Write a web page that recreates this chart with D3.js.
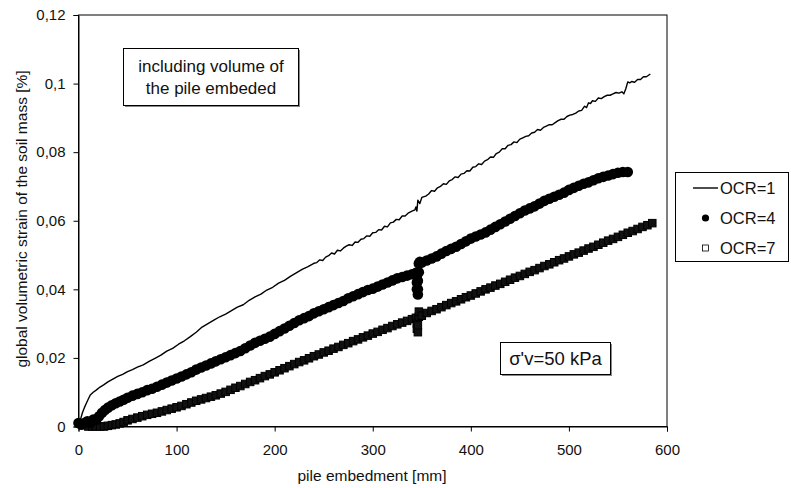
<!DOCTYPE html>
<html>
<head>
<meta charset="utf-8">
<script src="https://cdn.jsdelivr.net/npm/d3@7"></script>
<style>
  body { margin: 0; background: #fff; }
  svg { display: block; font-family: "Liberation Sans", Arial, sans-serif; }
</style>
</head>
<body>
<div id="chart"></div>
<script>
// Values, [embedment mm, strain %]
const ocr1 = [
  [0,0],[2,0.002],[4,0.004],[6,0.0055],[8,0.0068],[10,0.008],[12,0.0092],[15,0.0100],
  [18,0.0106],[22,0.0115],[26,0.0122],[30,0.0130],[35,0.0138],[40,0.0146],[45,0.0152],
  [50,0.0160],[55,0.0166],[60,0.0173],[66,0.0180],[72,0.0190],[78,0.0199],[84,0.0208],
  [90,0.0220],[96,0.0228],[102,0.0240],[108,0.0250],[114,0.0262],[120,0.0275],[126,0.0290],
  [132,0.0300],[138,0.0310],[144,0.0320],[150,0.0328],[156,0.0338],[162,0.0348],[168,0.0355],
  [174,0.0368],[180,0.0378],[186,0.0386],[192,0.0398],[198,0.0406],[204,0.0418],[210,0.0426],
  [216,0.0438],[222,0.0448],[228,0.0458],[234,0.0466],[240,0.0476],[243,0.0478],[246,0.0486],
  [249,0.0484],[252,0.0494],[255,0.0498],[258,0.0506],[261,0.0503],[264,0.0514],[267,0.0512],
  [270,0.0520],[273,0.0526],[276,0.0530],[279,0.0528],[282,0.0538],[285,0.0537],[288,0.0546],
  [291,0.0548],[294,0.0556],[297,0.0555],[300,0.0565],[303,0.0566],[306,0.0574],[309,0.0573],
  [312,0.0584],[315,0.0582],[318,0.0594],[321,0.0596],[324,0.0604],[327,0.0603],[330,0.0614],
  [333,0.0614],[336,0.0622],[340,0.0628],[343,0.0632],[344,0.0640],[345,0.0628],[346,0.0660],
  [348,0.0650],[350,0.0668],[354,0.0672],[357,0.0678],[360,0.0688],[363,0.0686],[366,0.0696],
  [369,0.0700],[372,0.0708],[375,0.0706],[378,0.0716],[381,0.0720],[384,0.0728],[387,0.0726],
  [390,0.0736],[393,0.0738],[396,0.0746],[399,0.0745],[402,0.0756],[405,0.0758],[408,0.0766],
  [411,0.0764],[414,0.0774],[417,0.0778],[420,0.0786],[423,0.0785],[426,0.0796],[429,0.0800],
  [432,0.0810],[435,0.0810],[438,0.0820],[441,0.0822],[444,0.0830],[447,0.0828],[450,0.0838],
  [453,0.0842],[456,0.0846],[459,0.0848],[462,0.0856],[465,0.0858],[468,0.0866],[471,0.0864],
  [474,0.0872],[477,0.0876],[480,0.0880],[483,0.0880],[486,0.0886],[489,0.0892],[492,0.0896],
  [495,0.0896],[498,0.0904],[501,0.0908],[504,0.0910],[507,0.0914],[510,0.0920],[513,0.0922],
  [516,0.0934],[518,0.0930],[520,0.0944],[522,0.0942],[524,0.0950],[527,0.0948],[530,0.0958],
  [533,0.0956],[536,0.0962],[539,0.0966],[542,0.0966],[545,0.0970],[548,0.0974],[551,0.0972],
  [554,0.0976],[556,0.0970],[558,0.0985],[560,0.1005],[562,0.1002],[564,0.1006],[567,0.1004],
  [570,0.1012],[573,0.1012],[576,0.1020],[579,0.1020],[583,0.1028]
];

const ocr4 = [
  [0,0.001],[3,0.0005],[6,0.001],[9,0.0015],[12,0.001],[15,0.002],[18,0.002],[21,0.003],
  [24,0.004],[27,0.0048],[30,0.0055],[34,0.0062],[38,0.0068],[42,0.0073],[46,0.0078],
  [50,0.0084],[55,0.0090],[60,0.0095],[65,0.0100],[70,0.0106],[75,0.0110],[80,0.0116],
  [85,0.0122],[90,0.0128],[95,0.0134],[100,0.0140],[105,0.0146],[110,0.0152],[115,0.0158],
  [120,0.0166],[125,0.0172],[130,0.0178],[135,0.0184],[140,0.0190],[145,0.0196],[150,0.0202],
  [155,0.0208],[160,0.0214],[165,0.0220],[170,0.0228],[175,0.0236],[180,0.0244],[185,0.0250],
  [190,0.0256],[195,0.0262],[200,0.0270],[205,0.0278],[210,0.0286],[215,0.0294],[220,0.0302],
  [225,0.0310],[230,0.0316],[235,0.0322],[240,0.0330],[245,0.0336],[250,0.0342],[255,0.0348],
  [260,0.0354],[265,0.0360],[270,0.0366],[275,0.0374],[280,0.0380],[285,0.0386],[290,0.0392],
  [295,0.0398],[300,0.0402],[305,0.0408],[310,0.0414],[315,0.0420],[320,0.0426],[325,0.0432],
  [330,0.0436],[335,0.0440],[340,0.0444],[344,0.0448],[345,0.0440],[345,0.0420],[345,0.0400],
  [346,0.0385],[346,0.0400],[346,0.0425],[347,0.0450],[347,0.0475],[348,0.0480],[350,0.0478],
  [355,0.0484],[360,0.0490],[365,0.0496],[370,0.0504],
  [375,0.0512],[380,0.0518],[385,0.0524],[390,0.0532],[395,0.0540],[400,0.0548],[405,0.0554],
  [410,0.0560],[415,0.0566],[420,0.0574],[425,0.0582],[430,0.0590],[435,0.0598],[440,0.0606],
  [445,0.0614],[450,0.0622],[455,0.0630],[460,0.0636],[465,0.0642],[470,0.0650],[475,0.0658],
  [480,0.0664],[485,0.0670],[490,0.0676],[495,0.0682],[500,0.0690],[505,0.0696],[510,0.0702],
  [515,0.0708],[520,0.0712],[525,0.0718],[530,0.0724],[535,0.0728],[540,0.0732],[545,0.0736],
  [550,0.0740],[555,0.0742],[560,0.0742]
];

const ocr7 = [
  [10,0],[14,0],[18,0],[22,0],[26,0],[30,0.0002],[34,0.0004],[38,0.0006],[42,0.0009],
  [46,0.0013],[50,0.0018],[55,0.0022],[60,0.0026],[65,0.0030],[70,0.0034],[75,0.0037],
  [80,0.0040],[85,0.0044],[90,0.0048],[95,0.0052],[100,0.0056],[105,0.0060],[110,0.0065],
  [115,0.0070],[120,0.0075],[125,0.0079],[130,0.0083],[135,0.0087],[140,0.0091],[145,0.0096],
  [150,0.0101],[155,0.0107],[160,0.0113],[165,0.0118],[170,0.0124],[175,0.0130],[180,0.0135],
  [185,0.0141],[190,0.0147],[195,0.0152],[200,0.0158],[205,0.0164],[210,0.0170],[215,0.0176],
  [220,0.0182],[225,0.0188],[230,0.0193],[235,0.0199],[240,0.0205],[245,0.0210],[250,0.0216],
  [255,0.0221],[260,0.0227],[265,0.0232],[270,0.0238],[275,0.0243],[280,0.0249],[285,0.0254],
  [290,0.0260],[295,0.0265],[300,0.0271],[305,0.0276],[310,0.0282],[315,0.0287],[320,0.0293],
  [325,0.0298],[330,0.0303],[335,0.0308],[340,0.0313],[344,0.0317],[345,0.0300],[345,0.0285],
  [346,0.0275],[346,0.0295],[347,0.0320],[347,0.0335],[350,0.0323],[355,0.0331],[360,0.0337],
  [365,0.0342],[370,0.0348],
  [375,0.0354],[380,0.0360],[385,0.0365],[390,0.0371],[395,0.0377],[400,0.0382],[405,0.0388],
  [410,0.0394],[415,0.0400],[420,0.0405],[425,0.0411],[430,0.0416],[435,0.0422],[440,0.0428],
  [445,0.0434],[450,0.0439],[455,0.0445],[460,0.0451],[465,0.0456],[470,0.0462],[475,0.0468],
  [480,0.0473],[485,0.0479],[490,0.0485],[495,0.0490],[500,0.0496],[505,0.0502],[510,0.0507],
  [515,0.0513],[520,0.0519],[525,0.0524],[530,0.0530],[535,0.0536],[540,0.0542],[545,0.0547],
  [550,0.0553],[555,0.0559],[560,0.0565],[565,0.0570],[570,0.0576],[575,0.0582],[580,0.0587],
  [585,0.0593]
];

const xTicks = [0, 100, 200, 300, 400, 500, 600];
const yTicks = [0, 0.02, 0.04, 0.06, 0.08, 0.1, 0.12];
const legendLabels = ['OCR=1', 'OCR=4', 'OCR=7'];

const width = 791, height = 488;
const plot = { left: 78.5, right: 667, top: 15, bottom: 426.5 };

const svg = d3.select('#chart').append('svg')
  .attr('width', width)
  .attr('height', height);

const x = d3.scaleLinear().domain([0, 600]).range([plot.left, plot.right]);
const y = d3.scaleLinear().domain([0, 0.12]).range([plot.bottom, plot.top]);

// comma decimal like the original
const fmtY = d => d === 0 ? '0' : String(+d.toFixed(2)).replace('.', ',');

// plot frame
svg.append('rect')
  .attr('x', plot.left).attr('y', plot.top)
  .attr('width', plot.right - plot.left).attr('height', plot.bottom - plot.top)
  .attr('fill', 'none').attr('stroke', '#000').attr('stroke-width', 1);

// axes
const xAxis = svg.append('g')
  .attr('transform', `translate(0,${plot.bottom})`)
  .call(d3.axisBottom(x).tickValues(xTicks).tickSize(5).tickPadding(13).tickFormat(d3.format('d')));
const yAxis = svg.append('g')
  .attr('transform', `translate(${plot.left},0)`)
  .call(d3.axisLeft(y).tickValues(yTicks).tickSize(5).tickPadding(8).tickFormat(fmtY));

[xAxis, yAxis].forEach(a => {
  a.select('.domain').attr('stroke', '#000');
  a.selectAll('.tick line').attr('stroke', '#000');
  a.selectAll('.tick text')
    .attr('fill', '#111')
    .attr('font-size', 15)
    .attr('font-family', '"Liberation Sans", Arial, sans-serif');
});

// axis titles
svg.append('text')
  .attr('x', 372).attr('y', 481)
  .attr('text-anchor', 'middle')
  .attr('font-size', 15.5)
  .attr('fill', '#111')
  .text('pile embedment [mm]');

svg.append('text')
  .attr('transform', 'translate(27,219) rotate(-90)')
  .attr('text-anchor', 'middle')
  .attr('font-size', 15.5)
  .attr('fill', '#111')
  .text('global volumetric strain of the soil mass [%]');

// OCR=7 squares (dense, so they read as a solid band)
const sq = 7.5;
svg.append('g')
  .selectAll('rect')
  .data(ocr7)
  .enter()
  .append('rect')
  .attr('x', d => x(d[0]) - sq / 2)
  .attr('y', d => y(d[1]) - sq / 2)
  .attr('width', sq).attr('height', sq)
  .attr('fill', '#111')
  .attr('stroke', '#000')
  .attr('stroke-width', 1);

// OCR=4 dots
svg.append('g')
  .selectAll('circle')
  .data(ocr4)
  .enter()
  .append('circle')
  .attr('cx', d => x(d[0]))
  .attr('cy', d => y(d[1]))
  .attr('r', 5.3)
  .attr('fill', '#000');

// OCR=1 line
const line = d3.line().x(d => x(d[0])).y(d => y(d[1]));
svg.append('path')
  .datum(ocr1)
  .attr('d', line)
  .attr('fill', 'none')
  .attr('stroke', '#000')
  .attr('stroke-width', 1.4)
  .attr('stroke-linejoin', 'round');

// text boxes with a small drop shadow
function noteBox(x0, y0, w, h, lines, size, lineGap) {
  svg.append('rect')
    .attr('x', x0 + 1.5).attr('y', y0 + 1.5)
    .attr('width', w).attr('height', h)
    .attr('fill', '#888');
  svg.append('rect')
    .attr('x', x0).attr('y', y0)
    .attr('width', w).attr('height', h)
    .attr('fill', '#fff').attr('stroke', '#000').attr('stroke-width', 1);
  const first = y0 + h / 2 - (lines.length - 1) * lineGap / 2 + size * 0.36;
  lines.forEach((t, i) => {
    svg.append('text')
      .attr('x', x0 + w / 2).attr('y', first + i * lineGap)
      .attr('text-anchor', 'middle')
      .attr('font-size', size)
      .attr('fill', '#111')
      .text(t);
  });
}

noteBox(123.5, 48.5, 175, 57, ['including volume of', 'the pile embeded'], 17, 22);
noteBox(500.5, 342.5, 110, 32, ['\u03c3\'v=50 kPa'], 18.5, 0);

// legend
const lg = svg.append('g');
lg.append('rect')
  .attr('x', 675.5).attr('y', 172.5)
  .attr('width', 113).attr('height', 89)
  .attr('fill', '#fff').attr('stroke', '#000').attr('stroke-width', 1);

const rowY = [188, 218, 248];
legendLabels.forEach((label, i) => {
  const cy = rowY[i];
  if (i === 0) {
    lg.append('line')
      .attr('x1', 693).attr('x2', 718).attr('y1', cy).attr('y2', cy)
      .attr('stroke', '#000').attr('stroke-width', 1.4);
  } else if (i === 1) {
    lg.append('circle').attr('cx', 705.5).attr('cy', cy).attr('r', 3.6).attr('fill', '#000');
  } else {
    lg.append('rect')
      .attr('x', 702.5).attr('y', cy - 3).attr('width', 6).attr('height', 6)
      .attr('fill', '#fff').attr('stroke', '#000').attr('stroke-width', 0.8);
  }
  lg.append('text')
    .attr('x', 720).attr('y', cy + 5.5)
    .attr('font-size', 16.5)
    .attr('fill', '#111')
    .text(label);
});
</script>
</body>
</html>
